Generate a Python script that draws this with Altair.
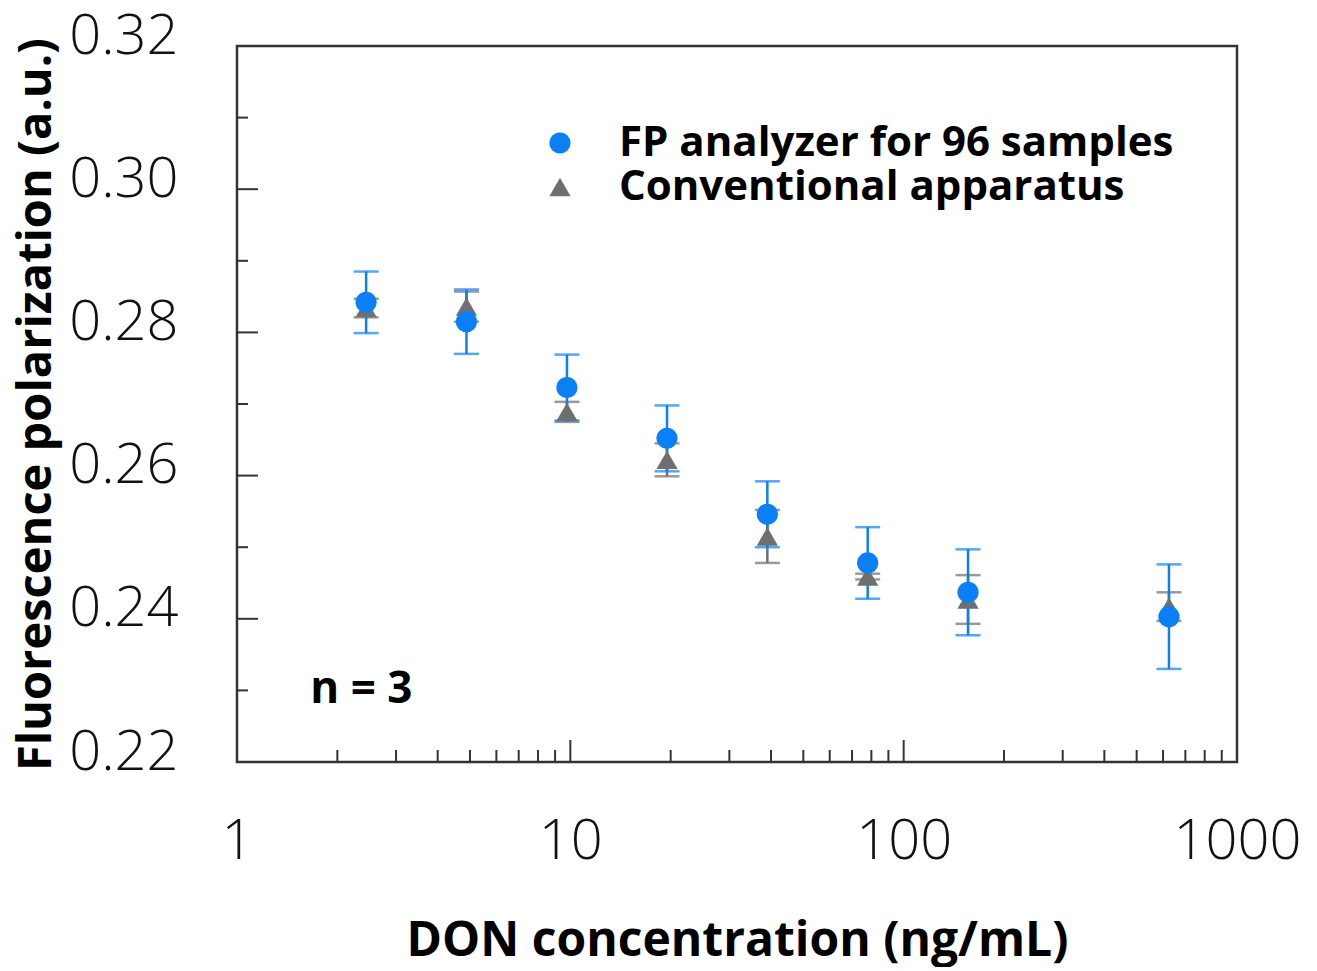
import altair as alt
import pandas as pd

# ---- data ----
series = ["FP analyzer for 96 samples", "Conventional apparatus"]
conc = [2.44, 4.88, 9.77, 19.5, 39.0, 78.0, 156.0, 625.0]
fp_mean = [0.2842, 0.2815, 0.2723, 0.2652, 0.2546, 0.2478, 0.2437, 0.2403]
fp_err = [0.0043, 0.0045, 0.0046, 0.0046, 0.0046, 0.0050, 0.0060, 0.0073]
conv_mean = [0.2834, 0.2836, 0.2689, 0.2622, 0.2515, 0.2459, 0.2427, 0.2417]
conv_err = [0.0013, 0.0021, 0.0014, 0.0023, 0.0037, 0.0004, 0.0034, 0.0020]

x_labels = [1, 10, 100, 1000]
y_labels = [0.22, 0.24, 0.26, 0.28, 0.30, 0.32]
x_major_ticks = [10, 100]
x_minor_ticks = [2, 3, 4, 5, 6, 7, 8, 9, 20, 30, 40, 50, 60, 70, 80, 90,
                 200, 300, 400, 500, 600, 700, 800, 900]
y_major_ticks = [0.24, 0.26, 0.28, 0.30]
y_minor_ticks = [0.23, 0.25, 0.27, 0.29, 0.31]
note_text = ["n = 3"]
note_x = [1.66]
note_y = [0.2301]

BLUE = "#0b80f6"
GRAY = "#6f6f6f"
FRAME = "#333333"
W, H = 1000, 716
LABEL_FONT = "Open Sans"
BOLD_FONT = "Open Sans"

rows = []
for s, means, errs in [(series[1], conv_mean, conv_err), (series[0], fp_mean, fp_err)]:
    for c, m, e in zip(conc, means, errs):
        rows.append({"series": s, "conc": c, "mean": m, "err": e})
df = pd.DataFrame(rows)

xscale = alt.Scale(type="log", domain=[1, 1000], nice=False)
yscale = alt.Scale(domain=[0.22, 0.32], nice=False, zero=False)

xaxis = alt.Axis(values=x_labels, format="d", grid=False, ticks=False, domain=False,
                 labelFontSize=56, labelFont=LABEL_FONT, labelFontWeight=300,
                 labelColor="#111111", labelPadding=52, labelFlush=False,
                 titleFontSize=48, titleFont=BOLD_FONT, titleFontWeight="bold",
                 titleColor="#000000", titlePadding=48)
yaxis = alt.Axis(values=y_labels, format=".2f", grid=False, ticks=False, domain=False,
                 labelFontSize=56, labelFont=LABEL_FONT, labelFontWeight=300,
                 labelColor="#111111", labelPadding=59, labelOffset=-10, labelFlush=False,
                 titleFontSize=47, titleFont=BOLD_FONT, titleFontWeight="bold",
                 titleColor="#000000", titlePadding=8)

XT = "DON concentration (ng/mL)"
YT = "Fluorescence polarization (a.u.)"


def X(field):
    return alt.X(field, type="quantitative", scale=xscale, axis=xaxis, title=XT)


def Y(field):
    return alt.Y(field, type="quantitative", scale=yscale, axis=yaxis, title=YT)


base = alt.Chart(df).transform_calculate(
    lo="datum.mean - datum.err", hi="datum.mean + datum.err"
)

layers = []
for s, col in [(series[1], GRAY), (series[0], BLUE)]:
    b = base.transform_filter(alt.datum.series == s)
    layers.append(b.mark_rule(color=col, strokeWidth=2.5).encode(
        x=X("conc"), y=Y("lo"), y2="hi"))
    layers.append(b.mark_tick(color=col, orient="horizontal", size=25, thickness=2.5).encode(
        x=X("conc"), y=Y("lo")))
    layers.append(b.mark_tick(color=col, orient="horizontal", size=25, thickness=2.5).encode(
        x=X("conc"), y=Y("hi")))

points = base.mark_point(filled=True, opacity=1, size=450).encode(
    x=X("conc"), y=Y("mean"),
    color=alt.Color("series:N", scale=alt.Scale(domain=series, range=[BLUE, GRAY]),
                    sort=series, legend=alt.Legend(title=None)),
    shape=alt.Shape("series:N", scale=alt.Scale(domain=series, range=["circle", "triangle-up"]),
                    sort=series, legend=alt.Legend(title=None)),
    order=alt.Order("order:Q"),
).transform_calculate(order="datum.series == 'FP analyzer for 96 samples' ? 1 : 0")
layers.append(points)

# inward ticks
xmin_df = pd.DataFrame({"v": x_minor_ticks})
xmaj_df = pd.DataFrame({"v": x_major_ticks})
ymin_df = pd.DataFrame({"v": y_minor_ticks})
ymaj_df = pd.DataFrame({"v": y_major_ticks})
layers.append(alt.Chart(xmin_df).mark_rule(color=FRAME, strokeWidth=2).encode(
    x=X("v"), y=alt.value(H), y2=alt.value(H - 12)))
layers.append(alt.Chart(xmaj_df).mark_rule(color=FRAME, strokeWidth=2).encode(
    x=X("v"), y=alt.value(H), y2=alt.value(H - 22)))
layers.append(alt.Chart(ymin_df).mark_rule(color=FRAME, strokeWidth=2).encode(
    y=Y("v"), x=alt.value(0), x2=alt.value(11)))
layers.append(alt.Chart(ymaj_df).mark_rule(color=FRAME, strokeWidth=2).encode(
    y=Y("v"), x=alt.value(0), x2=alt.value(21)))

note_df = pd.DataFrame({"t": note_text, "x": note_x, "y": note_y})
layers.append(alt.Chart(note_df).mark_text(
    font=BOLD_FONT, fontWeight="bold", fontSize=44, align="left", baseline="middle",
    color="#000000").encode(x=X("x"), y=Y("y"), text="t:N"))

chart = alt.layer(*layers).properties(
    width=W, height=H,
    autosize=alt.AutoSizeParams(type="none"),
    padding={"left": 229, "top": 38, "right": 72, "bottom": 205},
).configure_view(
    stroke=FRAME, strokeWidth=2.5
).configure_legend(
    orient="none", legendX=302, legendY=76, padding=0,
    labelFont=BOLD_FONT, labelFontWeight="bold", labelFontSize=42, labelLimit=0,
    labelColor="#000000", symbolSize=450, symbolStrokeWidth=0,
    labelOffset=38, rowPadding=2, symbolOpacity=1,
)

chart.save("out.html", embed_options={"renderer": "svg", "actions": False})
